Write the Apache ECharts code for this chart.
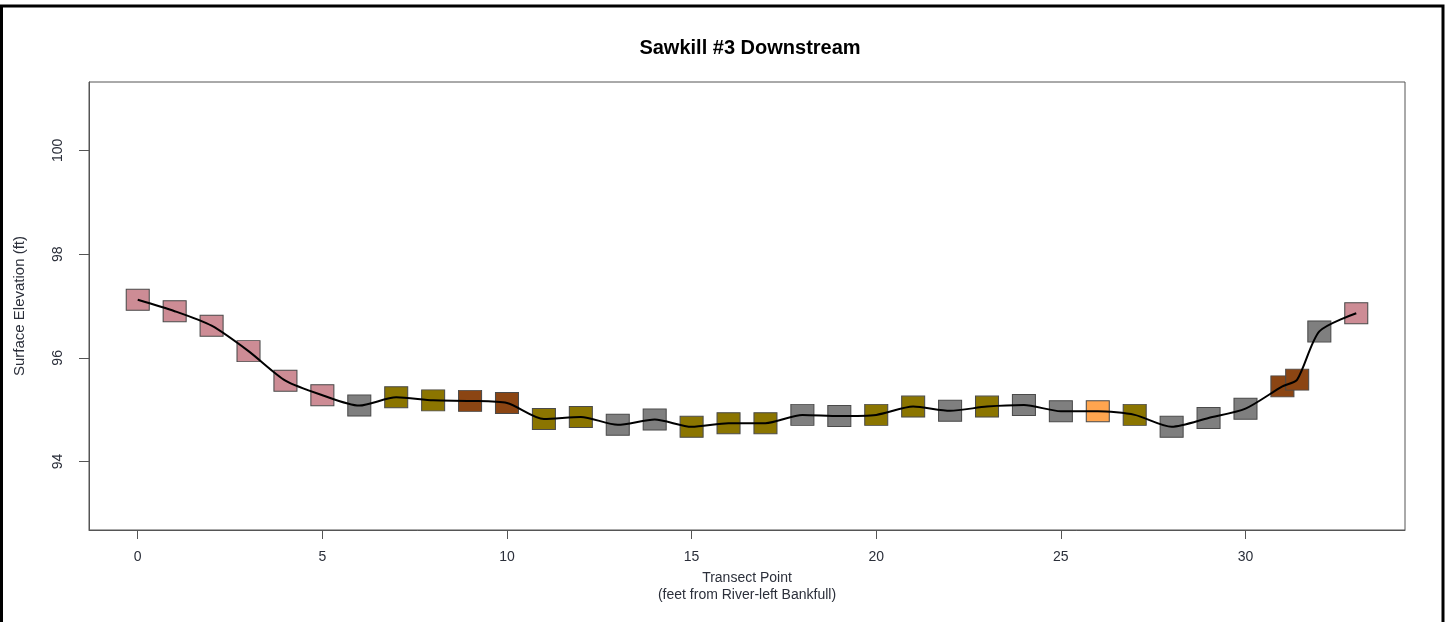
<!DOCTYPE html>
<html>
<head>
<meta charset="utf-8">
<title>Sawkill #3 Downstream</title>
<script src="https://cdn.jsdelivr.net/npm/echarts@6/dist/echarts.min.js"></script>
<style>
  html, body { margin: 0; padding: 0; background: #fff; }
  #chart { width: 1448px; height: 622px; }
</style>
</head>
<body>
<div id="chart"></div>
<script>
// Transect points (feet from river-left bankfull) and surveyed surface elevation (ft)
const transectX = [0, 1, 2, 3, 4, 5, 6, 7, 8, 9, 10, 11, 12, 13, 14, 15, 16, 17, 18, 19,
  20, 21, 22, 23, 24, 25, 26, 27, 28, 29, 30, 31, 31.4, 32, 33];
const elevation = [97.12, 96.90, 96.62, 96.13, 95.56, 95.28, 95.08, 95.24, 95.18, 95.17,
  95.13, 94.82, 94.86, 94.71, 94.81, 94.67, 94.74, 94.74, 94.90, 94.88,
  94.90, 95.06, 94.98, 95.06, 95.09, 94.97, 94.97, 94.90, 94.67, 94.84,
  95.02, 95.45, 95.58, 96.51, 96.86];
// Surface class recorded at each point
const surfaceClass = ['bank', 'bank', 'bank', 'bank', 'bank', 'bank', 'stone', 'gravel', 'gravel', 'wood',
  'wood', 'gravel', 'gravel', 'stone', 'stone', 'gravel', 'gravel', 'gravel', 'stone', 'stone',
  'gravel', 'gravel', 'stone', 'gravel', 'stone', 'stone', 'sand', 'gravel', 'stone', 'stone',
  'stone', 'wood', 'wood', 'stone', 'bank'];
const xTicks = [0, 5, 10, 15, 20, 25, 30];
const yTicks = [94, 96, 98, 100];

const classColor = {
  bank: '#CD8C95',
  stone: '#7F7F7F',
  gravel: '#8B7500',
  wood: '#8B4513',
  sand: '#FFA54F'
};

const points = transectX.map((x, i) => [x, elevation[i]]);
const textColor = '#2b2f3a';
const font = 'Liberation Sans, Arial, sans-serif';

const chart = echarts.init(document.getElementById('chart'), null, { renderer: 'canvas' });
chart.setOption({
  backgroundColor: '#fff',
  animation: false,
  title: {
    text: 'Sawkill #3 Downstream',
    left: 745,
    textAlign: 'center',
    top: 33,
    textStyle: { fontFamily: font, fontSize: 20, fontWeight: 'bold', color: '#000' }
  },
  graphic: [{
    type: 'rect',
    shape: { x: 1.5, y: 6, width: 1441.5, height: 700 },
    style: { fill: 'none', stroke: '#000', lineWidth: 3 },
    silent: true
  }],
  grid: {
    left: 89, top: 82, right: 43, bottom: 92,
    show: true, borderColor: '#555', borderWidth: 1, backgroundColor: 'transparent'
  },
  xAxis: {
    type: 'value',
    min: -1.32, max: 34.32,
    name: 'Transect Point\n(feet from River-left Bankfull)',
    nameLocation: 'middle',
    nameGap: 40,
    nameTextStyle: { fontFamily: font, fontSize: 14, color: textColor, lineHeight: 17 },
    axisLine: { show: true, onZero: false, lineStyle: { color: '#555' } },
    axisTick: { show: true, inside: false, length: 9, customValues: xTicks, lineStyle: { color: '#555' } },
    axisLabel: { customValues: xTicks, margin: 20, fontFamily: font, fontSize: 14, color: textColor },
    splitLine: { show: false }
  },
  yAxis: {
    type: 'value',
    min: 92.68, max: 101.32,
    name: 'Surface Elevation (ft)',
    nameLocation: 'middle',
    nameGap: 62,
    nameTextStyle: { fontFamily: font, fontSize: 15, color: textColor },
    axisLine: { show: true, onZero: false, lineStyle: { color: '#555' } },
    axisTick: { show: true, inside: false, length: 10, customValues: yTicks, lineStyle: { color: '#555' } },
    axisLabel: { customValues: yTicks, rotate: 90, margin: 24, fontFamily: font, fontSize: 14, color: textColor },
    splitLine: { show: false }
  },
  series: [
    {
      type: 'scatter',
      data: points,
      symbol: 'rect',
      symbolSize: [23, 21],
      itemStyle: {
        color: p => classColor[surfaceClass[p.dataIndex]],
        borderColor: '#4a4a4a',
        borderWidth: 1,
        opacity: 1
      },
      z: 2
    },
    {
      type: 'line',
      data: points,
      smooth: 0.25,
      showSymbol: false,
      symbol: 'none',
      lineStyle: { color: '#000', width: 2 },
      z: 3
    }
  ]
});
</script>
</body>
</html>
